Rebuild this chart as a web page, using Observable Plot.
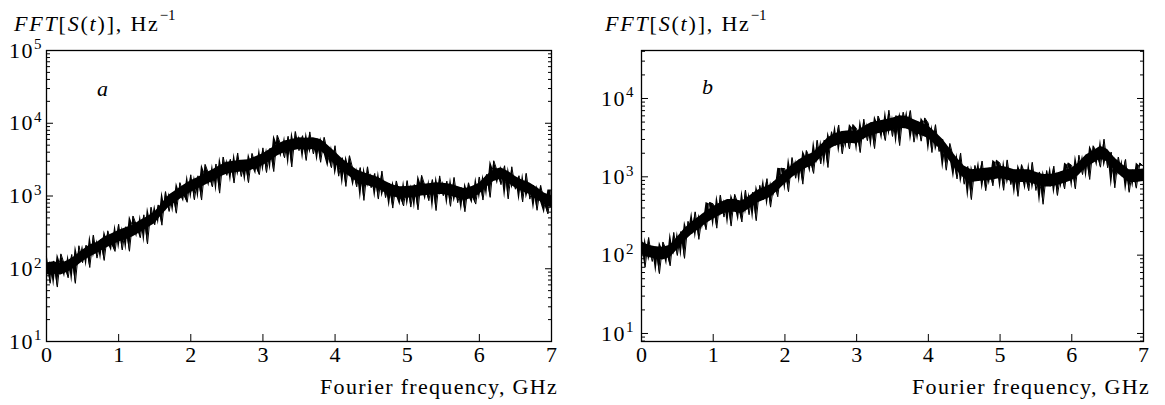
<!DOCTYPE html>
<html><head><meta charset="utf-8">
<script src="https://cdn.jsdelivr.net/npm/d3@7"></script>
<script src="https://cdn.jsdelivr.net/npm/@observablehq/plot@0.6"></script>
<style>
body{margin:0;background:#fff;}
#fig{position:relative;width:1165px;height:405px;font-family:"Liberation Serif","DejaVu Serif",serif;color:#000;overflow:hidden;}
.panel{position:absolute;top:0;}
.title{position:absolute;font-size:22px;letter-spacing:1.8px;white-space:nowrap;line-height:1;}
.title sup{font-size:15px;letter-spacing:0;position:relative;top:-3px;vertical-align:super;}
.xlab{position:absolute;font-size:22px;letter-spacing:1.3px;white-space:nowrap;line-height:1;text-align:right;}
.tag{position:absolute;font-size:22px;font-style:italic;line-height:1;}
</style></head><body><div id="fig"></div>
<script>
// ---------- data (Hz^-1) ----------
const bandStep = 0.1;   // GHz between envelope samples
const traceStep = 0.05; // GHz between trace samples

// panel a: solid core of the noisy spectrum
const hiA = [120,125,118,130,150,180,212,230,270,300,
 335,365,395,460,520,600,790,1030,1200,1400,
 1620,1800,2050,2280,2600,2900,3000,3100,3150,3450,
 3800,4400,5100,5700,6000,6300,6200,6300,6000,5000,
 4050,3250,2700,2300,2080,1950,1800,1580,1420,1340,
 1350,1380,1440,1470,1520,1500,1450,1350,1260,1350,
 1500,1900,2280,2450,2180,1860,1650,1510,1310,1100,1000];
const loA = [83,84,82,90,104,125,145,162,186,208,
 234,250,275,315,363,415,550,706,830,975,
 1120,1255,1410,1580,1815,1990,2085,2130,2180,2390,
 2625,3010,3540,3970,4160,4355,4255,4355,4160,3460,
 2810,2235,1860,1580,1440,1345,1255,1095,975,930,
 930,953,998,1020,1045,1045,998,930,870,930,
 1045,1315,1580,1695,1510,1285,1145,1045,910,757,690];
// panel a: jagged trace
const traceA = [145,63,128,56,160,113,75,157,63,207,121,211,104,290,140,251,130,332,226,173,
 409,181,378,174,530,391,266,551,219,702,401,754,397,1150,613,1110,580,1526,1058,819,
 1956,887,1893,880,2717,1980,1334,2754,1094,3435,1919,3192,1507,3900,1850,3120,1525,3850,2596,1963,
 4585,2102,4539,2167,6826,4972,3350,6615,2506,7695,4198,6747,3077,7600,3779,6156,2907,6398,3752,2444,
 4913,1872,3365,1353,3582,2277,1334,2457,869,2520,1298,2041,908,2200,949,1494,682,1610,1010,729,
 1627,704,1435,646,1923,1338,861,1681,630,1889,1007,1599,721,1800,808,1302,607,1519,1010,774,
 1826,880,1981,957,3048,2167,1429,2606,910,2520,1239,1898,828,2050,906,1410,636,1400,821,566,1206];

// panel b
const hiB = [148,134,128,126,134,169,218,263,308,362,
 416,467,512,512,488,562,660,724,793,953,
 1172,1410,1656,1859,2038,2507,3156,3541,3794,3883,
 3794,4357,4889,5119,5360,5612,6014,5878,5360,4889,
 4458,3708,3014,2286,1734,1378,1228,1256,1286,1315,
 1378,1315,1228,1228,1228,1146,1069,1069,1120,1200,
 1286,1511,1902,2134,2450,2234,1734,1442,1228,1228,1256];
const loB = [102,93,89,87,93,117,151,182,213,251,
 288,323,354,354,338,388,457,500,549,659,
 811,975,1145,1286,1409,1734,2183,2449,2624,2686,
 2624,3014,3381,3541,3708,3882,4160,4065,3708,3381,
 3083,2565,2085,1581,1199,953,849,869,890,910,
 953,910,849,849,849,793,740,740,774,830,
 890,1045,1316,1476,1695,1545,1199,998,849,849,869];
const traceB = [160,70,168,83,128,58,147,113,73,195,99,200,91,270,186,357,159,336,211,470,
 451,221,584,306,512,235,598,438,265,677,328,635,275,778,513,948,410,872,556,1283,
 1270,646,1763,959,1656,806,2169,1705,1104,2936,1462,2950,1315,3767,2508,4584,1960,3840,2265,4640,
 4111,2038,5447,2889,4889,2294,5972,4584,2904,7087,3274,6056,2506,6689,4163,7023,2770,5124,2852,5646,
 4830,2041,4635,2101,3014,1214,2667,1759,939,2009,804,1356,512,1397,890,1590,665,1301,767,1627,
 1492,673,1644,795,1228,563,1432,1074,665,1533,669,1154,446,1203,757,1368,578,1159,700,1502,
 1394,700,1889,1067,1902,925,2489,2006,1327,3026,1303,2068,723,1787,1022,1668,634,1228,716,1501,1361];

const xTicks = [0,1,2,3,4,5,6,7];
const majorA = [10,100,1000,10000,100000];
const majorB = [10,100,1000,10000];
const minorMult = [2,3,4,5,6,7,8,9];
const decades = [1,10,100,1000,10000];
const xLabel = "Fourier frequency, GHz";

// ---------- build ----------
const FONT = '"Liberation Serif","DejaVu Serif",serif';
function bandRows(hi, lo){ return hi.map((h,i)=>({f:i*bandStep, hi:h, lo:lo[i]})); }
function traceRows(v){ return v.map((y,i)=>({f:i*traceStep, v:y, next:v[Math.min(i+1, v.length-1)]})); }
function minorTicks(dom){
  const out=[]; decades.forEach(d=>minorMult.forEach(m=>{const t=d*m; if(t>=dom[0]&&t<=dom[1]) out.push(t);}));
  return out;
}
function panel(opts){
  const {hi,lo,trace,yDomain,majors,width,marginLeft,marginRight,labelPad} = opts;
  const minors = minorTicks(yDomain);
  const rows = traceRows(trace);
  const svg = Plot.plot({
    width, height:405, marginTop:50, marginBottom:64, marginLeft, marginRight,
    x:{domain:[0,7]},
    y:{type:"log", domain:yDomain},
    style:{fontFamily:FONT, fontSize:"22px", color:"#000", background:"transparent", overflow:"visible"},
    marks:[
      // filled spread between successive trace samples
      Plot.areaY(rows, {x:"f", y1:"v", y2:"next", fill:"#000", curve:"linear"}),
      Plot.areaY(bandRows(hi,lo), {x:"f", y1:"lo", y2:"hi", fill:"#000", curve:"linear"}),
      Plot.lineY(rows, {x:"f", y:"v", stroke:"#000", strokeWidth:1}),
      // inward ticks
      Plot.axisX({ticks:xTicks, tickSize:7, dy:-7, tickFormat:()=>"", label:null}),
      Plot.axisY({anchor:"left", ticks:majors, tickSize:7, dx:7, tickFormat:()=>"", label:null}),
      Plot.axisY({anchor:"left", ticks:minors, tickSize:4, dx:4, tickFormat:()=>"", label:null}),
      Plot.axisY({anchor:"right", ticks:majors, tickSize:7, dx:-7, tickFormat:()=>"", label:null}),
      Plot.axisY({anchor:"right", ticks:minors, tickSize:4, dx:-4, tickFormat:()=>"", label:null}),
      // labels
      Plot.axisX({ticks:xTicks, tickSize:0, tickPadding:5, tickFormat:d=>String(d), label:null}),
      Plot.axisY({anchor:"left", ticks:majors, tickSize:0, tickPadding:labelPad, tickFormat:d=>"10^"+Math.round(Math.log10(d)), label:null}),
      Plot.frame({stroke:"#000", strokeWidth:1.3})
    ]
  });
  d3.select(svg).selectAll('g[aria-label="y-axis tick label"] text').each(function(){
    const t=this.textContent; const m=t.split("^");
    if(m.length===2){ const s=d3.select(this); s.text(null);
      s.append("tspan").attr("letter-spacing","1.5px").text(m[0]);
      s.append("tspan").attr("dy","-0.55em").attr("font-size","0.68em").text(m[1]); }
  });
  return svg;
}
const fig = document.getElementById("fig");
function place(el, left){ const d=document.createElement("div"); d.className="panel"; d.style.left=left+"px"; d.appendChild(el); fig.appendChild(d); }
place(panel({hi:hiA, lo:loA, trace:traceA, yDomain:[10,100000], majors:majorA, width:582, marginLeft:46, marginRight:31, labelPad:5}), 0);
place(panel({hi:hiB, lo:loB, trace:traceB, yDomain:[7.9,41000], majors:majorB, width:583, marginLeft:59, marginRight:22, labelPad:8}), 582);

function addTitle(left){
  const d=document.createElement("div"); d.className="title"; d.style.left=left+"px"; d.style.top="11px";
  d.innerHTML='<i>FFT</i>[<i>S</i>(<i>t</i>)], Hz<sup>−1</sup>';
  fig.appendChild(d);
}
addTitle(14); addTitle(605);
function addXLabel(right){
  const d=document.createElement("div"); d.className="xlab"; d.style.right=(1165-right)+"px"; d.style.top="376px";
  d.textContent=xLabel; fig.appendChild(d);
}
addXLabel(558); addXLabel(1150);
function addTag(txt,left,top){ const d=document.createElement("div"); d.className="tag"; d.style.left=left+"px"; d.style.top=top+"px"; d.textContent=txt; fig.appendChild(d); }
addTag("a",97,78); addTag("b",702,76);
</script></body></html>
